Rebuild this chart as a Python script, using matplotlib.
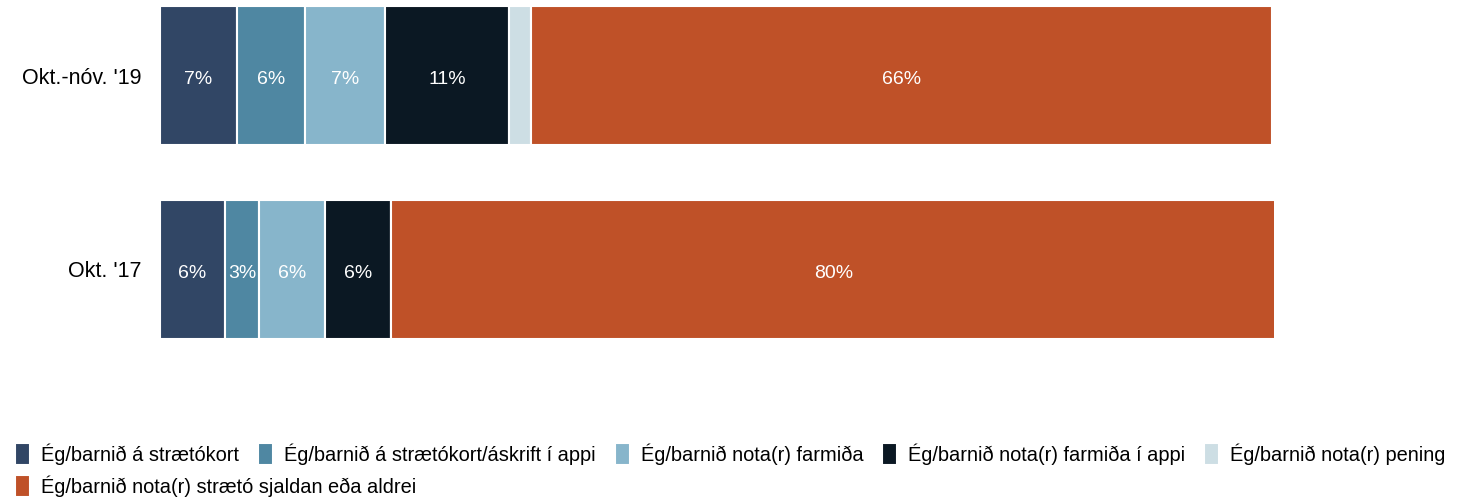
import numpy as np
import matplotlib
matplotlib.use("Agg")
from matplotlib import pyplot as plt

plt.rcParams['font.family'] = ['Liberation Sans', 'DejaVu Sans']

periods = ["Okt.-nóv. '19", "Okt. '17"]
categories = ["Ég/barnið á strætókort",
              "Ég/barnið á strætókort/áskrift í appi",
              "Ég/barnið nota(r) farmiða",
              "Ég/barnið nota(r) farmiða í appi",
              "Ég/barnið nota(r) pening",
              "Ég/barnið nota(r) strætó sjaldan eða aldrei"]
colors = ['#314665', '#4f87a2', '#87b5cb', '#0b1823', '#cddee4', '#bf5128']

# percent share per category, one entry per period
kort = [6.9, 5.8]
kort_app = [6.1, 3.1]
farmidi = [7.2, 5.9]
farmidi_app = [11.1, 5.9]
peningur = [2.0, 0.0]
sjaldan = [66.49, 79.5]
series = [kort, kort_app, farmidi, farmidi_app, peningur, sjaldan]

fig = plt.figure(figsize=(14.65, 5.01), dpi=100)
ax = fig.add_axes([160/1465, 1-339/501, (1274-160)/1465, (339-6)/501])

y = np.arange(len(periods))
left = np.zeros(len(periods))
handles = []
for vals, col, lab in zip(series, colors, categories):
    vals = np.array(vals)
    b = ax.barh(y, vals, left=left, height=0.72, color=col,
                edgecolor='white', linewidth=1.5, label=lab)
    handles.append(b)
    for yi, v, l in zip(y, vals, left):
        if v >= 2.5:
            ax.text(l + v/2, yi + 0.02, f'{v:.0f}%', ha='center', va='center',
                    color='white', fontsize=14)
    left += vals

ax.set_xlim(0, 100)
ax.set_ylim(1.36, -0.36)
ax.set_yticks(y)
ax.set_yticklabels(periods, fontsize=15.5)
ax.set_xticks([])
ax.tick_params(axis='y', length=0, pad=13)
for s in ax.spines.values():
    s.set_visible(False)

kw = dict(frameon=False, fontsize=14.4, handlelength=0.75, handleheight=1.3,
          handletextpad=0.55, columnspacing=0.95, borderaxespad=0, borderpad=0)
fig.legend(handles[:5], categories[:5], ncol=5, loc='center left',
           bbox_to_anchor=(15/1465, 1-454/501), **kw)
fig.legend(handles[5:], categories[5:], ncol=1, loc='center left',
           bbox_to_anchor=(15/1465, 1-486/501), **kw)

fig.savefig('out.png', dpi=100)
